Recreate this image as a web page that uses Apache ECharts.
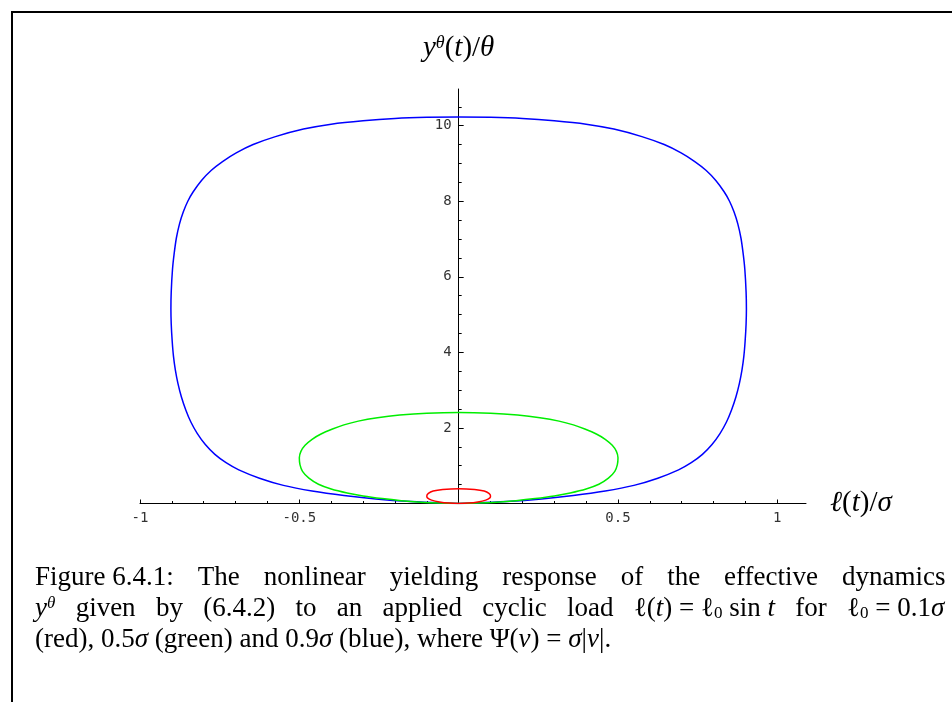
<!DOCTYPE html>
<html>
<head>
<meta charset="utf-8">
<script src="https://cdn.jsdelivr.net/npm/echarts@6/dist/echarts.min.js"></script>
<style>
  html, body { margin: 0; padding: 0; background: #fff; }
  #chart { width: 952px; height: 702px; }
</style>
</head>
<body>
<div id="chart"></div>
<script>
// ticks and labels
const xMajorTicks = [-1, -0.5, 0, 0.5, 1];
const xMinorTicks = [-0.9, -0.8, -0.7, -0.6, -0.4, -0.3, -0.2, -0.1, 0.1, 0.2, 0.3, 0.4, 0.6, 0.7, 0.8, 0.9];
const xLabels = [-1, -0.5, 0.5, 1];
const yMajorTicks = [2, 4, 6, 8, 10];
const yMinorTicks = [0.5, 1, 1.5, 2.5, 3, 3.5, 4.5, 5, 5.5, 6.5, 7, 7.5, 8.5, 9, 9.5, 10.5];
const yLabels = [2, 4, 6, 8, 10];

// loops, [l/sigma, y/theta], going round from the origin
const redLoop = [
  [0, 0], [0.03, 0.01], [0.06, 0.04], [0.085, 0.09], [0.098, 0.15], [0.1, 0.2],
  [0.095, 0.27], [0.08, 0.33], [0.05, 0.37], [0, 0.39], [-0.05, 0.37], [-0.08, 0.33],
  [-0.095, 0.27], [-0.1, 0.2], [-0.098, 0.15], [-0.085, 0.09], [-0.06, 0.04], [-0.03, 0.01], [0, 0]
];
const greenLoop = [
  [0, 0], [0.06, 0.01], [0.12, 0.035], [0.18, 0.075], [0.24, 0.13], [0.3, 0.2], [0.35, 0.28],
  [0.4, 0.385], [0.44, 0.51], [0.47, 0.67], [0.49, 0.85], [0.498, 1.03], [0.5, 1.21],
  [0.495, 1.38], [0.482, 1.54], [0.46, 1.7], [0.432, 1.84], [0.396, 1.97], [0.36, 2.08],
  [0.315, 2.18], [0.255, 2.27], [0.185, 2.34], [0.1, 2.39], [0, 2.41],
  [-0.1, 2.39], [-0.185, 2.34], [-0.255, 2.27], [-0.315, 2.18], [-0.36, 2.08], [-0.396, 1.97],
  [-0.432, 1.84], [-0.46, 1.7], [-0.482, 1.54], [-0.495, 1.38], [-0.5, 1.21], [-0.498, 1.03],
  [-0.49, 0.85], [-0.47, 0.67], [-0.44, 0.51], [-0.4, 0.385], [-0.35, 0.28], [-0.3, 0.2],
  [-0.24, 0.13], [-0.18, 0.075], [-0.12, 0.035], [-0.06, 0.01], [0, 0]
];
const blueLoop = [
  [0, 0], [0.05, 0.01], [0.15, 0.05], [0.26, 0.12], [0.36, 0.21], [0.46, 0.33], [0.55, 0.48],
  [0.625, 0.67], [0.69, 0.89], [0.73, 1.08], [0.765, 1.3], [0.795, 1.56], [0.82, 1.85],
  [0.84, 2.15], [0.856, 2.47], [0.87, 2.82], [0.881, 3.18], [0.889, 3.53], [0.895, 3.9],
  [0.899, 4.3], [0.902, 4.75], [0.903, 5.15], [0.902, 5.6], [0.898, 6.2], [0.893, 6.6],
  [0.886, 7.02], [0.876, 7.4], [0.864, 7.72], [0.85, 8.0], [0.833, 8.25], [0.807, 8.55],
  [0.776, 8.82], [0.741, 9.05], [0.698, 9.28], [0.645, 9.5], [0.575, 9.71], [0.487, 9.91],
  [0.4, 10.04], [0.3, 10.13], [0.2, 10.19], [0.1, 10.22], [0, 10.23],
  [-0.1, 10.22], [-0.2, 10.19], [-0.3, 10.13], [-0.4, 10.04], [-0.487, 9.91], [-0.575, 9.71],
  [-0.645, 9.5], [-0.698, 9.28], [-0.741, 9.05], [-0.776, 8.82], [-0.807, 8.55], [-0.833, 8.25],
  [-0.85, 8.0], [-0.864, 7.72], [-0.876, 7.4], [-0.886, 7.02], [-0.893, 6.6], [-0.898, 6.2],
  [-0.902, 5.6], [-0.903, 5.15], [-0.902, 4.75], [-0.899, 4.3], [-0.895, 3.9], [-0.889, 3.53],
  [-0.881, 3.18], [-0.87, 2.82], [-0.856, 2.47], [-0.84, 2.15], [-0.82, 1.85], [-0.795, 1.56],
  [-0.765, 1.3], [-0.73, 1.08], [-0.69, 0.89], [-0.625, 0.67], [-0.55, 0.48], [-0.46, 0.33],
  [-0.36, 0.21], [-0.26, 0.12], [-0.15, 0.05], [-0.05, 0.01], [0, 0]
];

const xMin = -1, xMax = 1.09;
const yMin = 0, yMax = 10.97;
const gridLeft = 140, gridRight = 146;
const gridWidth = 952 - gridLeft - gridRight;
// the vertical axis sits at l = 0, inside the grid
const yAxisOffset = -((0 - xMin) / (xMax - xMin)) * gridWidth;

const chart = echarts.init(document.getElementById("chart"), null, { renderer: "canvas" });

const monoLabel = {
  fontFamily: "DejaVu Sans Mono",
  fontSize: 14,
  color: "#333",
};
const mathRich = {
  i: { fontFamily: "Liberation Serif", fontStyle: "italic", fontSize: 29, color: "#000" },
  sup: { fontFamily: "Liberation Serif", fontStyle: "italic", fontSize: 18, color: "#000", verticalAlign: "top" },
};
const capRich = {
  i: { fontFamily: "Liberation Serif", fontStyle: "italic", fontSize: 27, fill: "#000" },
  sup: { fontFamily: "Liberation Serif", fontStyle: "italic", fontSize: 17, fill: "#000", verticalAlign: "top" },
  sub: { fontFamily: "Liberation Serif", fontSize: 17, fill: "#000", verticalAlign: "bottom" },
  // stretched word spaces of the justified caption lines
  a: { width: 24 },
  b: { width: 20.3 },
};

function loopSeries(data, color) {
  return {
    type: "line",
    data: data,
    showSymbol: false,
    smooth: 0.3,
    lineStyle: { color: color, width: 1.5 },
    itemStyle: { color: color },
    z: 3,
  };
}

function captionLine(text, top) {
  return {
    type: "text",
    left: 35,
    top: top,
    style: {
      text: text,
      fontFamily: "Liberation Serif",
      fontSize: 27,
      fill: "#000",
      rich: capRich,
    },
  };
}

const option = {
  animation: false,
  grid: {
    left: gridLeft,
    right: gridRight,
    top: 89,
    bottom: 198.5,
    outerBoundsMode: "none",
  },
  xAxis: [
    {
      type: "value",
      min: xMin,
      max: xMax,
      position: "bottom",
      axisLine: { show: true, onZero: false, lineStyle: { color: "#000", width: 1 } },
      axisTick: { show: true, inside: true, length: 4, customValues: xMajorTicks, lineStyle: { color: "#000" } },
      axisLabel: { show: true, margin: 8, customValues: xLabels, ...monoLabel },
      splitLine: { show: false },
      name: "{i|ℓ}({i|t})/{i|σ}",
      nameLocation: "end",
      nameGap: 24,
      nameTextStyle: { rich: mathRich, fontFamily: "Liberation Serif", fontSize: 29, color: "#000" },
    },
    {
      type: "value",
      min: xMin,
      max: xMax,
      position: "bottom",
      axisLine: { show: false, onZero: false },
      axisTick: { show: true, inside: true, length: 2.5, customValues: xMinorTicks, lineStyle: { color: "#000" } },
      axisLabel: { show: false },
      splitLine: { show: false },
    },
  ],
  yAxis: [
    {
      type: "value",
      min: yMin,
      max: yMax,
      position: "left",
      offset: yAxisOffset,
      axisLine: { show: true, onZero: false, lineStyle: { color: "#000", width: 1 } },
      axisTick: { show: true, inside: true, length: 5, customValues: yMajorTicks, lineStyle: { color: "#000" } },
      axisLabel: { show: true, margin: 7, customValues: yLabels, ...monoLabel },
      splitLine: { show: false },
      name: "{i|y}{sup|θ}({i|t})/{i|θ}",
      nameLocation: "end",
      nameGap: 26,
      nameTextStyle: { rich: mathRich, fontFamily: "Liberation Serif", fontSize: 29, color: "#000" },
    },
    {
      type: "value",
      min: yMin,
      max: yMax,
      position: "left",
      offset: yAxisOffset,
      axisLine: { show: false, onZero: false },
      axisTick: { show: true, inside: true, length: 3, customValues: yMinorTicks, lineStyle: { color: "#000" } },
      axisLabel: { show: false },
      splitLine: { show: false },
    },
  ],
  series: [
    loopSeries(blueLoop, "#0000ff"),
    loopSeries(greenLoop, "#00ee00"),
    loopSeries(redLoop, "#ff0000"),
  ],
  graphic: {
    elements: [
      {
        type: "polyline",
        shape: { points: [[12, 702], [12, 12], [952, 12]] },
        style: { stroke: "#000", lineWidth: 2, fill: null },
        silent: true,
      },
      captionLine(
        "Figure 6.4.1:{a| }The{a| }nonlinear{a| }yielding{a| }response{a| }of{a| }the{a| }effective{a| }dynamics",
        564
      ),
      captionLine(
        "{i|y}{sup|θ}{b| }given{b| }by{b| }(6.4.2){b| }to{b| }an{b| }applied{b| }cyclic{b| }load{b| }ℓ({i|t}) = ℓ{sub|0} sin {i|t}{b| }for{b| }ℓ{sub|0} = 0.1{i|σ}",
        595
      ),
      captionLine(
        "(red), 0.5{i|σ} (green) and 0.9{i|σ} (blue), where Ψ({i|v}) = {i|σ}|{i|v}|.",
        626
      ),
    ],
  },
};

chart.setOption(option);
</script>
</body>
</html>
